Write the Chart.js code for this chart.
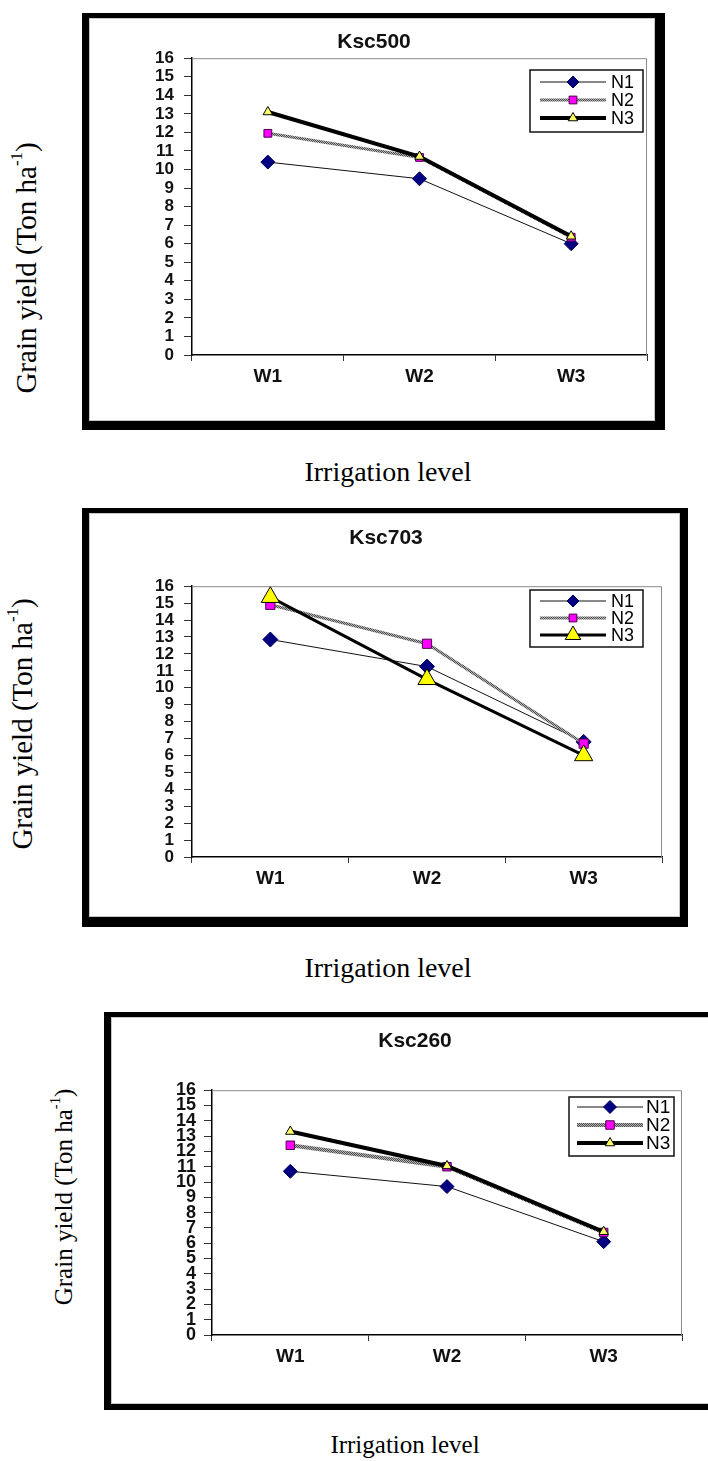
<!DOCTYPE html>
<html>
<head>
<meta charset="utf-8">
<script src="https://cdn.jsdelivr.net/npm/chart.js@4.4.1/dist/chart.umd.min.js"></script>
<style>
html, body { margin: 0; padding: 0; background: #fff; }
body { position: relative; width: 708px; height: 1461px; overflow: hidden; }
.frame { position: absolute; box-sizing: border-box; border-style: solid; border-color: #000; background: #fff; box-shadow: inset 0 0 0 1px #c8c8c8; }
.frame canvas { position: absolute; left: 0; top: 0; }
.lab { position: absolute; font-family: "Liberation Serif", "Times New Roman", serif; color: #000; white-space: nowrap; transform: translate(-50%, -50%); }
.lab.rot { transform: translate(-50%, -50%) rotate(-90deg); }
.lab sup { font-size: 58%; vertical-align: 0.8em; line-height: 0; }
</style>
</head>
<body>

<div class="lab rot" style="left:26px;top:268px;font-size:29px">Grain yield (Ton ha<sup>-1</sup>)</div>
<div class="frame" style="left:82px;top:13px;width:583px;height:417px;border-width:5px 10px 9px 7px"><canvas id="c1" width="566" height="403"></canvas></div>
<div class="lab" style="left:388px;top:472px;font-size:28px">Irrigation level</div>

<div class="lab rot" style="left:22px;top:724px;font-size:29px">Grain yield (Ton ha<sup>-1</sup>)</div>
<div class="frame" style="left:82px;top:508px;width:606px;height:419px;border-width:5px 8px 10px 7px"><canvas id="c2" width="591" height="404"></canvas></div>
<div class="lab" style="left:388px;top:968px;font-size:28px">Irrigation level</div>

<div class="lab rot" style="left:64px;top:1197px;font-size:25px">Grain yield (Ton ha<sup>-1</sup>)</div>
<div class="frame" style="left:104px;top:1012px;width:650px;height:398px;border-width:5px 7px 6px 7px"><canvas id="c3" width="600" height="387"></canvas></div>
<div class="lab" style="left:405px;top:1445px;font-size:25px">Irrigation level</div>

<script>
const categories = ["W1", "W2", "W3"];
const seriesNames = ["N1", "N2", "N3"];
const yMin = 0, yMax = 16, yStep = 1;

// Ksc500
const ksc500N1 = [10.4, 9.5, 6.0];
const ksc500N2 = [11.95, 10.65, 6.35];
const ksc500N3 = [13.1, 10.7, 6.4];
// Ksc703
const ksc703N1 = [12.85, 11.25, 6.8];
const ksc703N2 = [14.9, 12.6, 6.7];
const ksc703N3 = [15.35, 10.5, 6.0];
// Ksc260
const ksc260N1 = [10.7, 9.7, 6.1];
const ksc260N2 = [12.4, 11.0, 6.7];
const ksc260N3 = [13.3, 11.05, 6.75];

const SANS = "'Liberation Sans', Arial, sans-serif";

// grey textured line like the excel N2 series
function hatch() {
  const c = document.createElement("canvas");
  c.width = c.height = 4;
  const g = c.getContext("2d");
  g.fillStyle = "#b4b4b4";
  g.fillRect(0, 0, 4, 4);
  g.fillStyle = "#4d4d4d";
  for (let i = 0; i < 4; i++) {
    g.fillRect(i, i, 1, 1);
    g.fillRect((i + 2) % 4, i, 1, 1);
  }
  return g.createPattern(c, "repeat");
}

function marker(ctx, style, r, x, y) {
  ctx.beginPath();
  if (style === "rectRot") {
    ctx.moveTo(x, y - r); ctx.lineTo(x + r, y); ctx.lineTo(x, y + r); ctx.lineTo(x - r, y);
  } else if (style === "rect") {
    const h = r * Math.SQRT1_2;
    ctx.rect(x - h, y - h, 2 * h, 2 * h);
  } else {
    ctx.moveTo(x, y - r);
    ctx.lineTo(x + r * 0.866, y + r / 2);
    ctx.lineTo(x - r * 0.866, y + r / 2);
  }
  ctx.closePath();
  ctx.fill();
  ctx.stroke();
}

// excel style legend box: line + marker + name
const boxLegend = {
  id: "boxLegend",
  afterDatasetsDraw(chart, args, o) {
    const ctx = chart.ctx;
    ctx.save();
    ctx.fillStyle = "#fff";
    ctx.fillRect(o.x, o.y, o.w, o.h);
    ctx.strokeStyle = "#111";
    ctx.lineWidth = 1.5;
    ctx.strokeRect(o.x, o.y, o.w, o.h);
    chart.data.datasets.forEach((ds, i) => {
      const y = o.rows[i];
      ctx.beginPath();
      ctx.strokeStyle = ds.borderColor;
      ctx.lineWidth = ds.borderWidth;
      ctx.moveTo(o.x0, y);
      ctx.lineTo(o.x1, y);
      ctx.stroke();
      ctx.fillStyle = ds.pointBackgroundColor;
      ctx.strokeStyle = ds.pointBorderColor;
      ctx.lineWidth = 1;
      marker(ctx, ds.pointStyle, o.radius[i], (o.x0 + o.x1) / 2, y);
      ctx.fillStyle = "#000";
      ctx.font = o.font + "px " + SANS;
      ctx.textBaseline = "middle";
      ctx.textAlign = "left";
      ctx.fillText(ds.label, o.tx, y + 1);
    });
    ctx.restore();
  }
};

// grey top and right edge of the plot area
const plotEdge = {
  id: "plotEdge",
  beforeDatasetsDraw(chart) {
    const a = chart.chartArea, ctx = chart.ctx;
    ctx.save();
    ctx.strokeStyle = "#8a8a8a";
    ctx.lineWidth = 1;
    ctx.beginPath();
    ctx.moveTo(a.left, a.top + 0.5);
    ctx.lineTo(a.right - 0.5, a.top + 0.5);
    ctx.lineTo(a.right - 0.5, a.bottom);
    ctx.stroke();
    ctx.restore();
  }
};

function makeChart(id, title, values, g) {
  const pattern = hatch();
  const looks = [
    { borderColor: "#111", borderWidth: 1, pointStyle: "rectRot", pointBackgroundColor: "#000080", pointBorderColor: "#00005a", order: 3 },
    { borderColor: pattern, borderWidth: g.n2Width, pointStyle: "rect", pointBackgroundColor: "#ff00ff", pointBorderColor: "#4a004a", order: 2 },
    { borderColor: "#000", borderWidth: g.n3Width, pointStyle: "triangle", pointBackgroundColor: g.yellow, pointBorderColor: "#000", order: 1 }
  ];
  const datasets = values.map((v, i) => Object.assign({
    label: seriesNames[i],
    data: v,
    tension: 0,
    fill: false,
    pointRadius: g.radius[i],
    pointBorderWidth: 1
  }, looks[i]));

  return new Chart(document.getElementById(id), {
    type: "line",
    data: { labels: categories, datasets },
    plugins: [plotEdge, boxLegend],
    options: {
      responsive: false,
      animation: false,
      devicePixelRatio: 1,
      events: [],
      layout: { padding: g.pad },
      plugins: {
        legend: { display: false },
        tooltip: { enabled: false },
        title: {
          display: true,
          text: title,
          color: "#111",
          font: { family: SANS, size: g.titleSize, weight: "bold", lineHeight: 1.2 },
          padding: { top: 0, bottom: g.titleGap }
        },
        boxLegend: g.legend
      },
      scales: {
        x: {
          type: "category",
          offset: true,
          grid: { offset: true, drawOnChartArea: false, tickLength: 6, color: "#333" },
          border: { color: "#000", width: 1.5 },
          ticks: { color: "#111", padding: 4, font: { family: SANS, size: g.xSize, weight: "bold", lineHeight: 1.2 } },
          afterFit(s) { s.height = g.xH; }
        },
        y: {
          min: yMin,
          max: yMax,
          grid: { drawOnChartArea: false, tickLength: 8, color: "#333" },
          border: { color: "#000", width: 1.5 },
          ticks: { stepSize: yStep, autoSkip: false, color: "#111", padding: g.yPad, font: { family: SANS, size: g.ySize, weight: "bold", lineHeight: 1 } },
          afterFit(s) { s.width = g.yW; }
        }
      }
    }
  });
}

makeChart("c1", "Ksc500", [ksc500N1, ksc500N2, ksc500N3], {
  pad: { left: 5, right: 1, top: 12, bottom: 0 }, titleGap: 3, titleSize: 21,
  yW: 98, xH: 66, yPad: 10, ySize: 17, xSize: 19,
  radius: [7, 5.5, 5.5], n2Width: 3, n3Width: 4, yellow: "#ffff66",
  legend: { x: 441, y: 52, w: 113, h: 62, rows: [64, 82, 100], x0: 451, x1: 517, tx: 522, font: 18, radius: [6, 5.5, 5.5] }
});

makeChart("c2", "Ksc703", [ksc703N1, ksc703N2, ksc703N3], {
  pad: { left: 21, right: 18, top: 13, bottom: 0 }, titleGap: 35, titleSize: 21,
  yW: 82, xH: 60, yPad: 10, ySize: 17, xSize: 19,
  radius: [7.5, 6.5, 10.5], n2Width: 3, n3Width: 3, yellow: "#ffff00",
  legend: { x: 441, y: 77, w: 113, h: 57, rows: [88, 105, 122], x0: 451, x1: 517, tx: 522, font: 18, radius: [6, 5.5, 9] }
});

makeChart("c3", "Ksc260", [ksc260N1, ksc260N2, ksc260N3], {
  pad: { left: 37, right: 29, top: 12, bottom: 0 }, titleGap: 36, titleSize: 21,
  yW: 64, xH: 69, yPad: 8, ySize: 18, xSize: 19,
  radius: [7, 6, 5.5], n2Width: 4, n3Width: 4, yellow: "#ffff66",
  legend: { x: 458, y: 80, w: 105, h: 59, rows: [90, 108, 126], x0: 466, x1: 532, tx: 535, font: 19, radius: [6.5, 6, 5.5] }
});
</script>
</body>
</html>
